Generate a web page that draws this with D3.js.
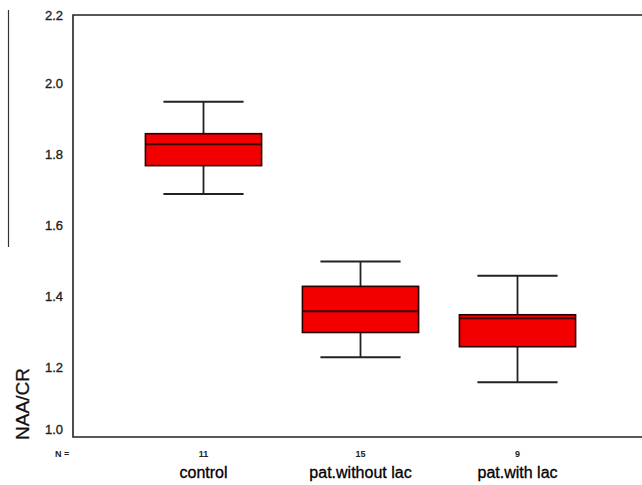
<!DOCTYPE html>
<html>
<head>
<meta charset="utf-8">
<script src="https://cdnjs.cloudflare.com/ajax/libs/d3/7.8.5/d3.min.js"></script>
<style>
  html, body { margin: 0; padding: 0; background: #fff; }
  svg { display: block; font-family: Arial, "Liberation Sans", sans-serif; }
</style>
</head>
<body>
<svg id="chart" width="642" height="485"></svg>
<script>
// Groups and box-plot statistics of NAA/CR ratio
const categories  = ["control", "pat.without lac", "pat.with lac"];
const counts      = [11, 15, 9];
const whiskerLow  = [1.69, 1.23, 1.16];
const q1          = [1.77, 1.30, 1.26];
const median      = [1.83, 1.36, 1.34];
const q3          = [1.86, 1.43, 1.35];
const whiskerHigh = [1.95, 1.50, 1.46];
const yTicks      = [1.0, 1.2, 1.4, 1.6, 1.8, 2.0, 2.2];

const boxes = categories.map((c, i) => ({
  name: c, n: counts[i],
  lo: whiskerLow[i], q1: q1[i], med: median[i], q3: q3[i], hi: whiskerHigh[i]
}));

const svg = d3.select("#chart");

// Plot frame
const frame = { left: 73, top: 15, bottom: 437, right: 642 };

const y = d3.scaleLinear().domain([1.0, 2.2]).range([439, 13]);
const x = d3.scaleBand().domain(categories).range([125, 596])
  .paddingInner(0.26).paddingOuter(0.13);

// Stray rule at the left margin
svg.append("line")
  .attr("x1", 8.5).attr("x2", 8.5).attr("y1", 10).attr("y2", 247)
  .attr("stroke", "#333").attr("stroke-width", 1.2);

// Frame: left, top and bottom edges
svg.append("path")
  .attr("d", `M${frame.right},${frame.top}H${frame.left}V${frame.bottom}H${frame.right}`)
  .attr("fill", "none").attr("stroke", "#222").attr("stroke-width", 1.6);

// Y axis labels (no tick marks)
const yAxis = svg.append("g")
  .attr("transform", `translate(${frame.left - 10},0)`)
  .call(d3.axisLeft(y).tickValues(yTicks).tickSize(0).tickPadding(0)
    .tickFormat(d3.format(".1f")));
yAxis.select(".domain").remove();
yAxis.selectAll(".tick")
  .attr("transform", d => `translate(0,${Math.max(frame.top + 1, Math.min(frame.bottom - 7, y(d)))})`);
yAxis.selectAll("text")
  .attr("font-size", 13).attr("fill", "#222")
  .attr("stroke", "#222").attr("stroke-width", 0.35)
  .attr("font-family", "Arial, 'Liberation Sans', sans-serif");

// Y axis title
svg.append("text")
  .attr("transform", `translate(29,404) rotate(-90)`)
  .attr("text-anchor", "middle")
  .attr("font-size", 19).attr("fill", "#111")
  .attr("stroke", "#111").attr("stroke-width", 0.3)
  .text("NAA/CR");

const g = svg.append("g");
const bw = x.bandwidth();
const capW = bw * 0.69;

const bx = g.selectAll("g.box").data(boxes).join("g").attr("class", "box")
  .attr("transform", d => `translate(${x(d.name) + bw / 2},0)`);

// Whisker stems
bx.append("line")
  .attr("x1", 0).attr("x2", 0)
  .attr("y1", d => y(d.hi)).attr("y2", d => y(d.q3))
  .attr("stroke", "#222").attr("stroke-width", 1.8);
bx.append("line")
  .attr("x1", 0).attr("x2", 0)
  .attr("y1", d => y(d.q1)).attr("y2", d => y(d.lo))
  .attr("stroke", "#222").attr("stroke-width", 1.8);

// Whisker caps
bx.selectAll("line.cap").data(d => [d.hi, d.lo]).join("line").attr("class", "cap")
  .attr("x1", -capW / 2).attr("x2", capW / 2)
  .attr("y1", v => y(v)).attr("y2", v => y(v))
  .attr("stroke", "#222").attr("stroke-width", 2);

// Boxes
bx.append("rect")
  .attr("x", -bw / 2).attr("width", bw)
  .attr("y", d => y(d.q3)).attr("height", d => y(d.q1) - y(d.q3))
  .attr("fill", "#f20000").attr("stroke", "#2a0000").attr("stroke-width", 1.6);

// Medians
bx.append("line")
  .attr("x1", -bw / 2).attr("x2", bw / 2)
  .attr("y1", d => y(d.med)).attr("y2", d => y(d.med))
  .attr("stroke", "#3a0000").attr("stroke-width", 2);

// Sample sizes
svg.append("text")
  .attr("x", 55).attr("y", 454).attr("dy", "0.35em")
  .attr("font-size", 9).attr("font-weight", "bold").attr("fill", "#222")
  .text("N =");
bx.append("text")
  .attr("y", 454).attr("dy", "0.35em").attr("text-anchor", "middle")
  .attr("font-size", 9).attr("font-weight", "bold").attr("fill", "#222")
  .text(d => d.n);

// Category labels
bx.append("text")
  .attr("y", 472).attr("dy", "0.35em").attr("text-anchor", "middle")
  .attr("font-size", 16).attr("fill", "#000")
  .attr("stroke", "#000").attr("stroke-width", 0.3)
  .text(d => d.name);
</script>
</body>
</html>
